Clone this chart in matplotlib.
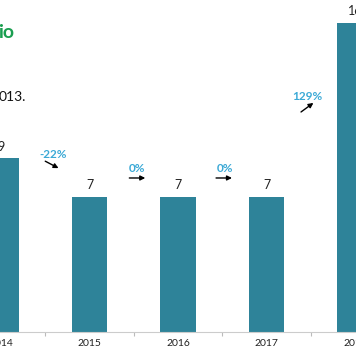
import matplotlib.pyplot as plt

years = ['2014', '2015', '2016', '2017', '2018']
counts = [9, 7, 7, 7, 16]
changes = ['-22%', '0%', '0%', '129%']
# arrow rise for each change, in data units
arrow_dy = [-0.36, 0, 0, 0.47]

bar_color = '#2e8399'
pct_color = '#3ba9d6'

fig = plt.figure(figsize=(3.56, 3.53), dpi=100)
ax = fig.add_axes([0, 21 / 353, 1, 332 / 353])

x = list(range(len(years)))
ax.bar(x, counts, width=0.4, color=bar_color)

for xi, c in zip(x, counts):
    ax.text(xi, c + 0.3, str(c), ha='center', va='bottom', fontsize=9,
            family='Lato', color='#222222')

# change annotations between bars
text_pos = [(0.59, 9.2), (1.54, 8.45), (2.53, 8.45), (3.46, 12.2)]
arrow_x = [(0.50, 0.65), (1.45, 1.63), (2.43, 2.61), (3.39, 3.53)]
arrow_y0 = [8.85, 7.98, 7.98, 11.4]
for lab, (tx, ty), (ax0, ax1), y0, dy in zip(changes, text_pos, arrow_x, arrow_y0, arrow_dy):
    ax.text(tx, ty, lab, ha='center', va='center', fontsize=8.5, fontweight='bold',
            family='Lato', color=pct_color)
    ax.annotate('', xy=(ax1, y0 + dy), xytext=(ax0, y0),
                arrowprops=dict(arrowstyle='-|>', color='black', lw=1.0,
                                mutation_scale=7, shrinkA=0, shrinkB=0))

ax.set_xticks([i + 0.5 for i in range(-1, 4)])
ax.set_xticklabels([])
ax.tick_params(axis='x', length=3, color='#bbbbbb', direction='out')
ax.set_yticks([])
ax.set_xlim(-1 / 88.5, 355 / 88.5)
ax.set_ylim(0, 332 / 19.3)
for xi, y in zip(x, years):
    ax.text(xi, -0.6, y, ha='center', va='center', fontsize=7.5, family='Lato',
            color='#222222', clip_on=False)

for s in ['top', 'right', 'left']:
    ax.spines[s].set_visible(False)
ax.spines['bottom'].set_color('#cccccc')

fig.text(-0.005, 1 - 33 / 353, 'io', fontsize=14, fontweight='bold', color='#1a9e50',
         family='Lato', va='center', ha='left')
fig.text(-0.005, 1 - 97 / 353, '013.', fontsize=10, color='#111111',
         family='Lato', va='center', ha='left')

fig.savefig('out.png', dpi=100)
